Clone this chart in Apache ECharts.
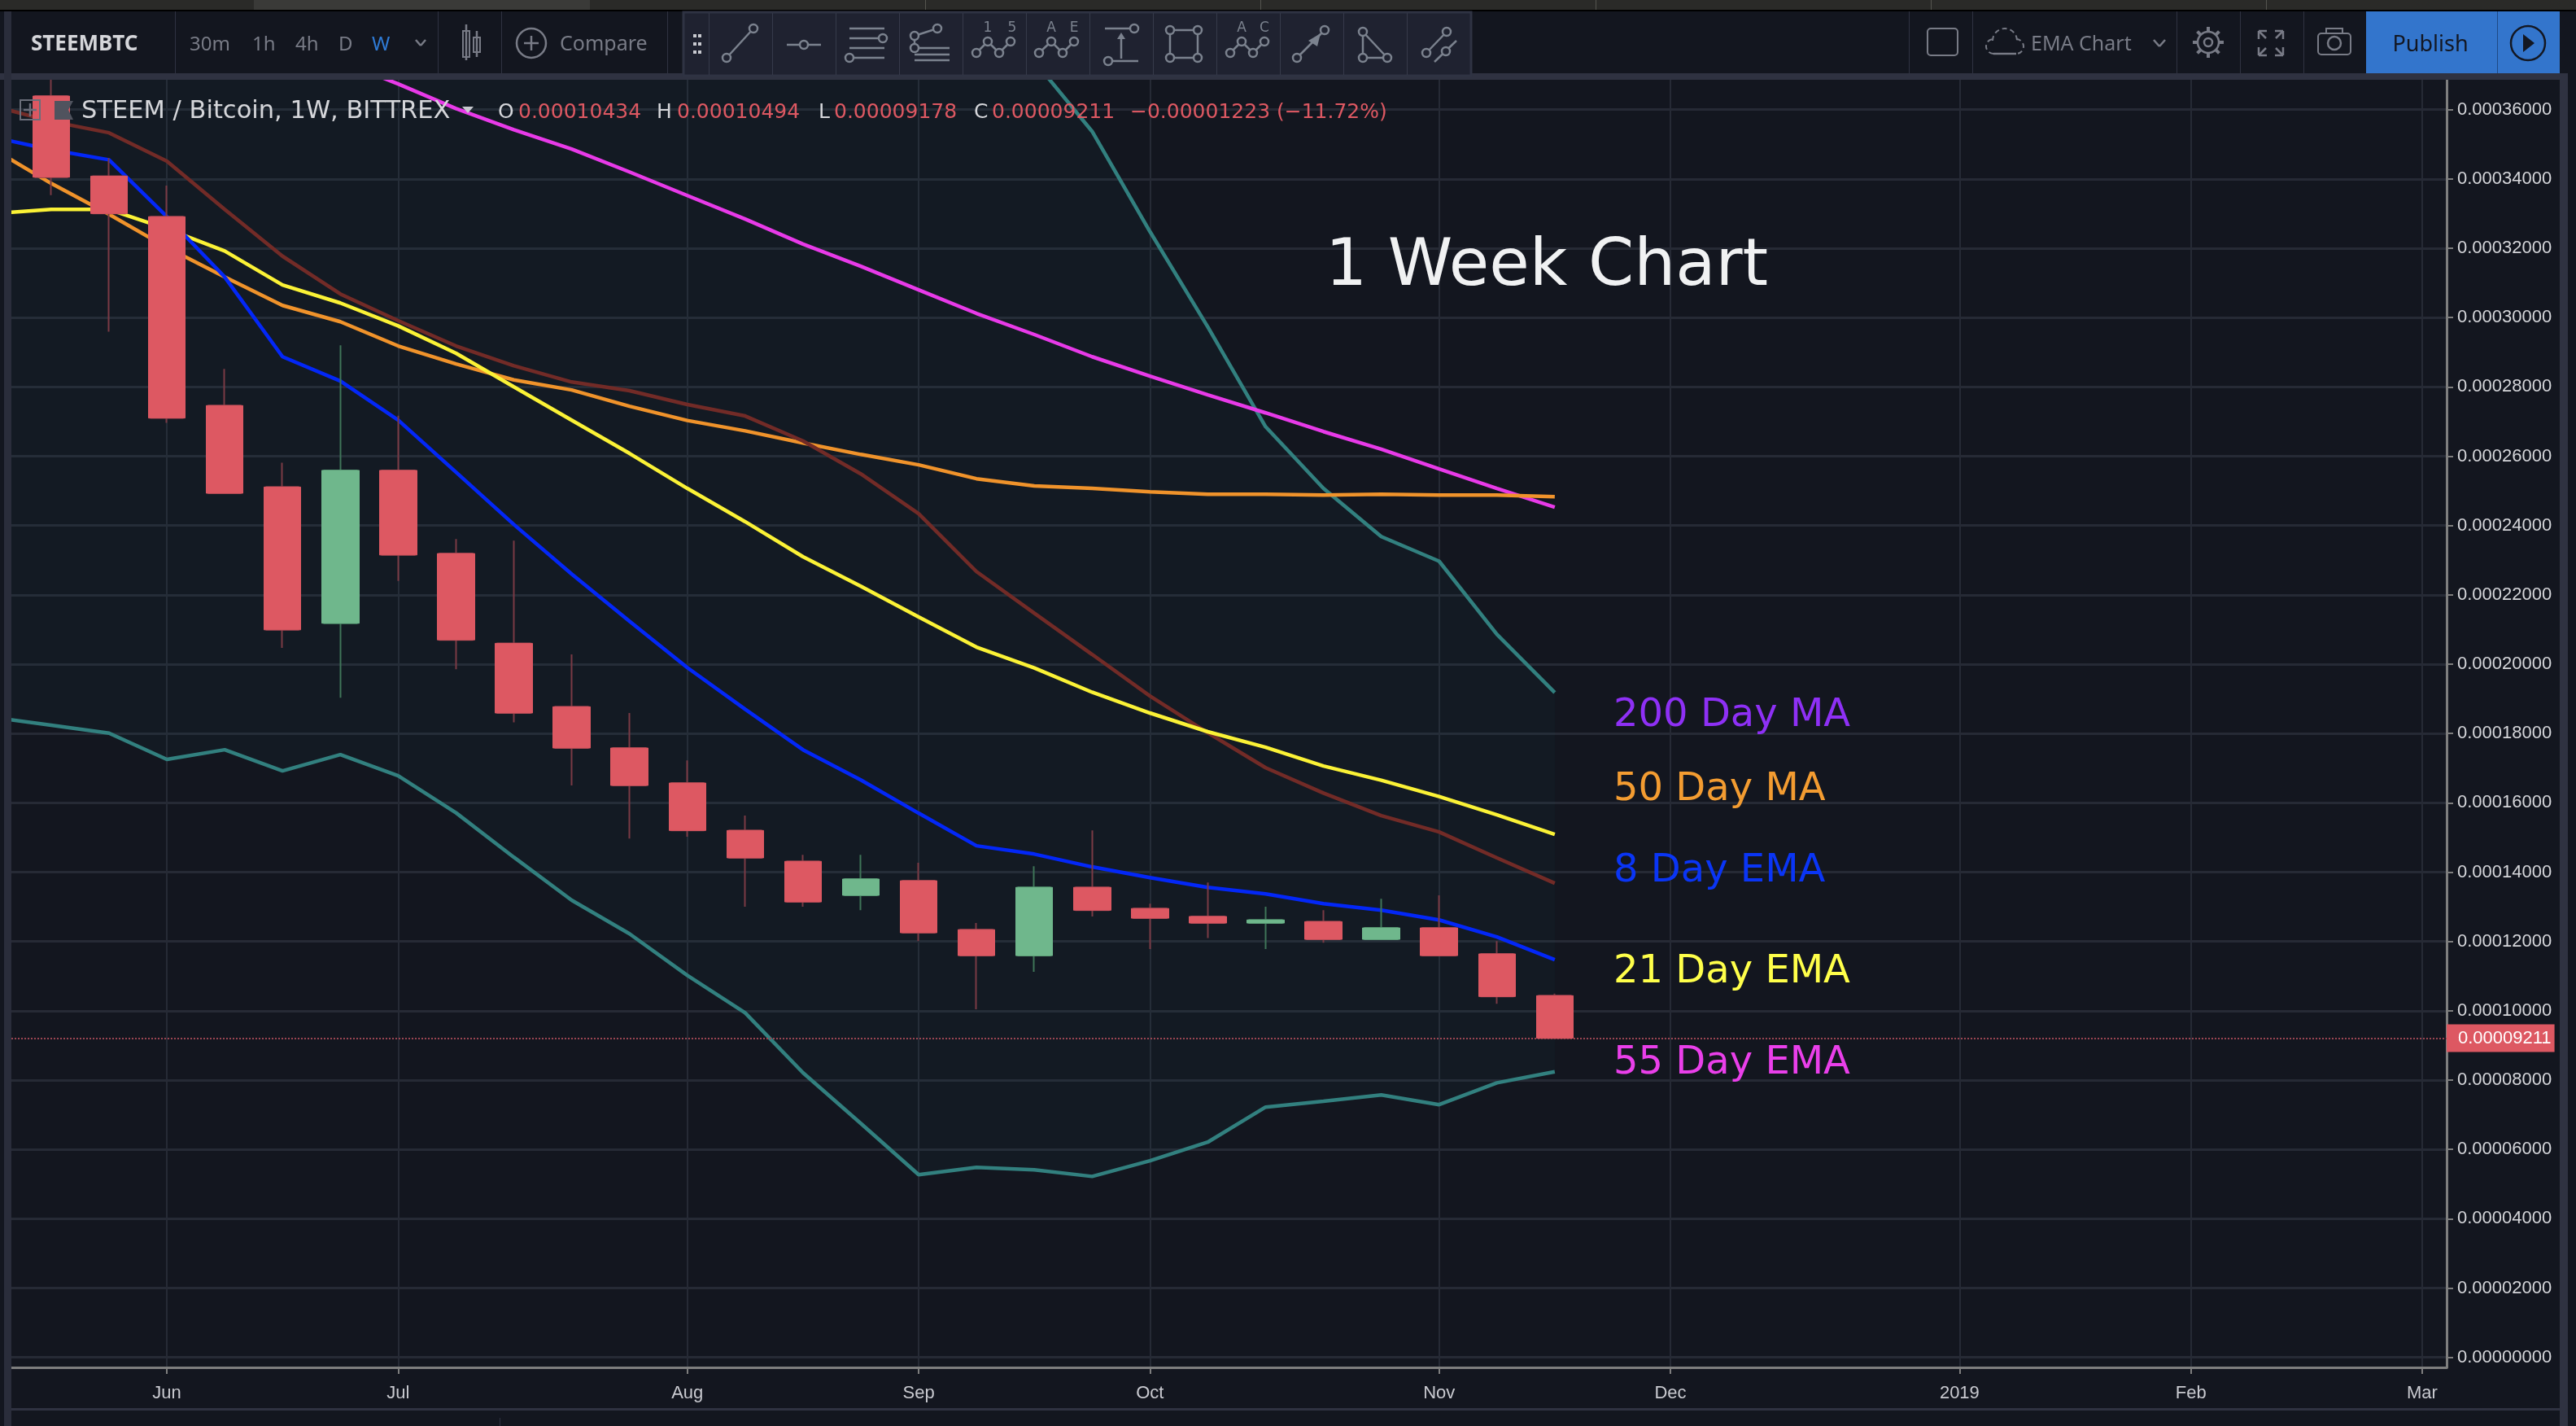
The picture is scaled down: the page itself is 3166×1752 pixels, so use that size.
<!DOCTYPE html>
<html>
<head>
<meta charset="utf-8">
<style>
  html, body { margin: 0; padding: 0; background: #13161f; }
  #chart-container { width: 3166px; height: 1752px; }
</style>
<script src="https://cdn.jsdelivr.net/npm/echarts@6/dist/echarts.min.js"></script>
</head>
<body>
<div id="chart-container"></div>
<script>
// all prices below are in units of 0.00001 BTC
var weeks = ['2018-05-14', '2018-05-21', '2018-05-28', '2018-06-04', '2018-06-11', '2018-06-18', '2018-06-25',
  '2018-07-02', '2018-07-09', '2018-07-16', '2018-07-23', '2018-07-30', '2018-08-06', '2018-08-13', '2018-08-20',
  '2018-08-27', '2018-09-03', '2018-09-10', '2018-09-17', '2018-09-24', '2018-10-01', '2018-10-08', '2018-10-15',
  '2018-10-22', '2018-10-29', '2018-11-05', '2018-11-12', '2018-11-19'];

// candles start one week after the indicator lines
var opens = [36.39, 34.08, 32.91, 27.46, 25.11, 21.18, 25.59, 23.19, 20.60, 18.77, 17.58, 16.57, 15.20, 14.31,
  13.33, 13.75, 12.34, 11.59, 13.56, 12.95, 12.72, 12.53, 12.57, 12.06, 12.39, 11.64, 10.434];
var closes = [34.05, 33.00, 27.10, 24.93, 20.99, 25.59, 23.15, 20.70, 18.59, 17.58, 16.50, 15.20, 14.41, 13.14,
  13.80, 12.25, 11.59, 13.56, 12.90, 12.67, 12.53, 12.62, 12.06, 12.39, 11.59, 10.41, 9.211];
var lows = [33.53, 29.59, 26.96, 24.93, 20.47, 19.03, 22.40, 19.85, 18.32, 16.50, 14.97, 15.02, 13.00, 13.00,
  12.90, 12.01, 10.04, 11.12, 12.72, 11.78, 12.10, 11.78, 11.96, 12.06, 11.59, 10.20, 9.178];
var highs = [37.60, 34.60, 33.81, 28.52, 25.81, 29.20, 27.17, 23.61, 23.56, 20.28, 18.59, 17.22, 15.63, 14.50,
  14.50, 14.27, 12.53, 14.17, 15.20, 13.09, 13.70, 13.00, 12.90, 13.23, 13.33, 12.01, 10.494];

var ema8 = [35.20, 34.84, 34.55, 32.91, 31.17, 28.87, 28.17, 27.04, 25.54, 24.03, 22.60, 21.24, 19.90, 18.70, 17.53,
  16.66, 15.70, 14.76, 14.52, 14.15, 13.84, 13.56, 13.37, 13.09, 12.90, 12.62, 12.13, 11.47];
var ema21 = [33.00, 33.12, 33.12, 32.56, 31.92, 30.94, 30.42, 29.76, 28.97, 28.00, 27.04, 26.08, 25.07, 24.11, 23.10,
  22.25, 21.36, 20.49, 19.89, 19.19, 18.59, 18.05, 17.60, 17.06, 16.65, 16.18, 15.65, 15.09];
var ema55 = [null, null, null, null, null, null, 37.40, 36.74, 36.03, 35.42, 34.86, 34.20, 33.52, 32.84, 32.12,
  31.48, 30.80, 30.12, 29.51, 28.87, 28.31, 27.77, 27.25, 26.71, 26.20, 25.63, 25.07, 24.53];
var ma50 = [34.86, 33.87, 32.98, 32.02, 31.17, 30.35, 29.88, 29.18, 28.66, 28.20, 27.91, 27.44, 27.03, 26.73, 26.38,
  26.05, 25.75, 25.35, 25.14, 25.07, 24.97, 24.90, 24.90, 24.88, 24.90, 24.88, 24.88, 24.83];
var redLine = [36.10, 35.66, 35.33, 34.51, 33.12, 31.77, 30.68, 29.91, 29.18, 28.61, 28.14, 27.89, 27.49, 27.16, 26.44,
  25.49, 24.34, 22.67, 21.47, 20.28, 19.08, 18.02, 17.01, 16.28, 15.63, 15.16, 14.41, 13.68];
// upper band runs off the top of the chart until late September, those values are guesses
var bandUpper = [52, 52, 52, 51.5, 51, 50.5, 50, 49.5, 49, 48.5, 48, 47.5, 47, 46, 45, 44, 42, 40,
  37.40, 35.37, 32.48, 29.73, 26.85, 25.07, 23.68, 22.97, 20.86, 19.18];
var bandLower = [18.46, 18.24, 18.01, 17.25, 17.53, 16.92, 17.39, 16.78, 15.71, 14.43, 13.19, 12.22, 11.02, 9.94, 8.21,
  6.75, 5.27, 5.48, 5.41, 5.22, 5.67, 6.21, 7.22, 7.39, 7.57, 7.29, 7.92, 8.24];

var lastPrice = 9.211;
var priceTicks = [0, 2, 4, 6, 8, 10, 12, 14, 16, 18, 20, 22, 24, 26, 28, 30, 32, 34, 36];
var monthTicks = ['2018-06-04', '2018-07-02', '2018-08-06', '2018-09-03', '2018-10-01', '2018-11-05', '2018-12-03',
  '2019-01-07', '2019-02-04', '2019-03-04'];
var monthNames = ['Jun', 'Jul', 'Aug', 'Sep', 'Oct', 'Nov', 'Dec', '2019', 'Feb', 'Mar'];

var legendNotes = [
  ['200 Day MA', '#8e30f5', 880],
  ['50 Day MA', '#f39c31', 971],
  ['8 Day EMA', '#0a35f5', 1071],
  ['21 Day EMA', '#ffff4a', 1195],
  ['55 Day EMA', '#ea3fea', 1307]
];

var BG = '#13161f';
var GRID = '#262a35';
var MUTED = '#787b86';
var TOOL = '#7b828e';
var UI_FONT = '"DejaVu Sans"';

function fmtPrice(v) {
  return (v / 100000).toFixed(8);
}
function toMs(day) {
  return Date.parse(day + 'T00:00:00Z');
}
var monthTickMs = monthTicks.map(toMs);
function monthLabel(v) {
  return monthNames[monthTickMs.indexOf(v)] || '';
}
function rowsOf(values) {
  return weeks.map(function (w, i) { return [toMs(w), values[i]]; });
}
// the value comes first here so that stacking acts on the price and not on the date
function stackRowsOf(values) {
  return weeks.map(function (w, i) { return [values[i], toMs(w)]; });
}

var candleWeeks = weeks.slice(1);
var wickData = candleWeeks.map(function (w, i) {
  return [toMs(w), opens[i], closes[i], lows[i], highs[i]];
});
var bodyData = candleWeeks.map(function (w, i) {
  return [toMs(w), opens[i], closes[i], Math.min(opens[i], closes[i]), Math.max(opens[i], closes[i])];
});
var bandGap = bandUpper.map(function (v, i) { return v - bandLower[i]; });

function lineSeries(name, values, color) {
  return {
    name: name,
    type: 'line',
    data: rowsOf(values),
    symbol: 'none',
    z: 3,
    lineStyle: { color: color, width: 4.5 },
    silent: true
  };
}

// ---- chrome around the chart ----
function rect(x, y, w, h, fill, extra) {
  var el = { type: 'rect', shape: { x: x, y: y, width: w, height: h }, style: { fill: fill }, silent: true, z: 50 };
  if (extra) {
    if (extra.r) el.shape.r = extra.r;
    if (extra.stroke) { el.style.stroke = extra.stroke; el.style.lineWidth = extra.lineWidth || 2; }
  }
  return el;
}
function text(str, x, y, size, fill, extra) {
  extra = extra || {};
  return {
    type: 'text',
    z: 60,
    silent: true,
    style: {
      text: str, x: x, y: y, fill: fill,
      font: (extra.weight ? extra.weight + ' ' : '') + size + 'px ' + (extra.family || UI_FONT),
      align: extra.align || 'left',
      verticalAlign: 'middle'
    }
  };
}
function seg(x1, y1, x2, y2, color, width) {
  return {
    type: 'line', z: 60, silent: true,
    shape: { x1: x1, y1: y1, x2: x2, y2: y2 },
    style: { stroke: color || TOOL, lineWidth: width || 2.5 }
  };
}
function dot(cx, cy, r, color, fill) {
  return {
    type: 'circle', z: 61, silent: true,
    shape: { cx: cx, cy: cy, r: r },
    style: { stroke: color || TOOL, lineWidth: 2.5, fill: fill || '#1f2230' }
  };
}
function ring(cx, cy, r, color) {
  return {
    type: 'circle', z: 60, silent: true,
    shape: { cx: cx, cy: cy, r: r },
    style: { stroke: color || MUTED, fill: null, lineWidth: 2.5 }
  };
}
function poly(points, fill) {
  return { type: 'polygon', z: 61, silent: true, shape: { points: points }, style: { fill: fill || TOOL } };
}
function dashedArc(cx, cy, r, a0, a1) {
  return {
    type: 'arc', z: 60, silent: true,
    shape: { cx: cx, cy: cy, r: r, startAngle: a0, endAngle: a1 },
    style: { stroke: MUTED, fill: null, lineWidth: 2, lineDash: [6, 4] }
  };
}

// drawing tool icons, offsets from the centre of their cell
var toolIcons = [
  { l: [[-17, 18, 16, -18]], c: [[-17, 18], [16, -18]] },
  { l: [[-21, 2, 21, 2]], c: [[0, 2]] },
  { l: [[-22, -18, 21, -18], [-22, -6, 19, -6], [-22, 6, 21, 6], [-22, 18, 21, 18]], c: [[19, -6], [-22, 18]] },
  { l: [[-20, -9, 8, -18], [-20, -9, -20, 6], [-20, 6, 23, 6], [-20, 14, 23, 14], [-20, 21, 23, 21]], c: [[-20, -9], [8, -18], [-20, 6]] },
  { l: [[-22, 12, -8, -2], [-8, -2, 6, 12], [6, 12, 20, -2]], c: [[-22, 12], [-8, -2], [6, 12], [20, -2]], t: [[-8, -18, '1'], [22, -18, '5']] },
  { l: [[-23, 12, -8, -2], [-8, -2, 6, 12], [6, 12, 20, -2]], c: [[-23, 12], [-8, -2], [6, 12], [20, -2]], t: [[-8, -18, 'A'], [20, -18, 'E']] },
  { l: [[-20, -18, 16, -18], [-16, 22, 21, 22], [0, -8, 0, 19]], c: [[16, -18], [-16, 22]], p: [[[0, -13], [-5, -5], [5, -5]]] },
  { l: [[-18, -16, 16, -16], [-18, 18, 16, 18], [-18, -16, -18, 18], [16, -16, 16, 18]], c: [[-18, -16], [16, -16], [-18, 18], [16, 18]] },
  { l: [[-22, 12, -8, -2], [-8, -2, 6, 12], [6, 12, 20, -2]], c: [[-22, 12], [-8, -2], [6, 12], [20, -2]], t: [[-8, -18, 'A'], [20, -18, 'C']] },
  { l: [[-18, 18, 16, -16]], c: [[-18, 18], [16, -16]], p: [[[11, -12], [-4, -3], [7, 4]]] },
  { l: [[-15, -14, -15, 18], [-15, 18, 15, 18], [-15, -14, 15, 18]], c: [[-15, -14], [-15, 18], [15, 18]] },
  { l: [[-15, 12, 10, -14], [-5, 23, 22, -3]], c: [[-15, 12], [10, -14], [9, 10]] }
];

function buildChrome() {
  var els = [];
  // tab strip
  els.push(rect(0, 0, 3166, 12, '#2a2a28'));
  els.push(rect(312, 0, 413, 12, '#3a3a38'));
  els.push(rect(0, 12, 3166, 2, '#000000'));
  [1137, 1549, 1961, 2373, 2785].forEach(function (x) { els.push(rect(x, 0, 1, 12, '#55554f')); });
  // top toolbar
  els.push(rect(0, 14, 3166, 76, BG));
  els.push(rect(0, 90, 3156, 8, '#2f3241'));
  els.push(rect(5, 14, 9, 1738, '#2a2d3b'));
  els.push(rect(3146, 98, 10, 1654, '#2f3241'));
  els.push(rect(14, 1730, 3132, 3, '#2f3241'));
  els.push(rect(614, 1742, 1, 10, '#2f3241'));
  [215, 538, 616, 820, 2346, 2424, 2675, 2753, 2831].forEach(function (x) { els.push(rect(x, 14, 1, 76, '#2f3241')); });

  els.push(text('STEEMBTC', 38, 55, 26, '#d5d6da', { family: '"Noto Sans"', weight: 'bold' }));
  [['30m', 233], ['1h', 310], ['4h', 363], ['D', 416]].forEach(function (t) { els.push(text(t[0], t[1], 55, 24, MUTED, { family: '"Noto Sans"' })); });
  els.push(text('W', 457, 55, 24, '#2f7bd6', { family: '"Noto Sans"' }));
  els.push(seg(511, 49, 517, 56, MUTED), seg(517, 56, 523, 49, MUTED));
  // candle icon
  els.push(rect(569, 38, 8, 32, null, { stroke: MUTED }), rect(582, 46, 8, 18, null, { stroke: MUTED }));
  els.push(seg(573, 30, 573, 74, MUTED), seg(586, 38, 586, 70, MUTED));
  // compare
  els.push(ring(653, 53, 18));
  els.push(seg(644, 53, 662, 53, MUTED), seg(653, 44, 653, 62, MUTED));
  els.push(text('Compare', 688, 55, 25, MUTED, { family: '"Noto Sans"' }));

  // floating drawing toolbar
  els.push(rect(840, 15, 968, 78, '#1f2230', { stroke: '#2f3343', lineWidth: 3 }));
  [44, 54, 64].forEach(function (y) {
    els.push(rect(852, y - 2, 4, 4, '#c8cad0'), rect(858, y - 2, 4, 4, '#c8cad0'));
  });
  toolIcons.forEach(function (icon, i) {
    var left = 871 + i * 78;
    var cx = left + 39;
    var cy = 53;
    els.push(rect(left, 16, 1, 76, '#363a4a'));
    (icon.l || []).forEach(function (s) { els.push(seg(cx + s[0], cy + s[1], cx + s[2], cy + s[3])); });
    (icon.c || []).forEach(function (s) { els.push(dot(cx + s[0], cy + s[1], 5)); });
    (icon.t || []).forEach(function (s) { els.push(text(s[2], cx + s[0], cy + s[1], 17, TOOL, { align: 'center' })); });
    (icon.p || []).forEach(function (s) {
      els.push(poly(s.map(function (p) { return [cx + p[0], cy + p[1]]; })));
    });
  });

  // right side of the toolbar
  els.push(rect(2369, 35, 37, 33, null, { stroke: MUTED, r: 4 }));
  els.push(dashedArc(2464, 50, 15, Math.PI, 2 * Math.PI));
  els.push(dashedArc(2450, 57, 9, Math.PI / 2, 1.5 * Math.PI));
  els.push(dashedArc(2478, 57, 9, 1.5 * Math.PI, 2.5 * Math.PI));
  els.push(seg(2450, 66, 2478, 66, MUTED));
  els.push(text('EMA Chart', 2496, 55, 25, MUTED, { family: '"Noto Sans"' }));
  els.push(seg(2647, 49, 2654, 57, MUTED), seg(2654, 57, 2661, 49, MUTED));
  // gear
  els.push(ring(2714, 52, 13), ring(2714, 52, 5));
  for (var a = 0; a < 8; a++) {
    var ang = a * Math.PI / 4;
    els.push(seg(2714 + Math.cos(ang) * 13, 52 + Math.sin(ang) * 13, 2714 + Math.cos(ang) * 19, 52 + Math.sin(ang) * 19, MUTED, 4));
  }
  // fullscreen arrows
  [[-1, -1], [1, -1], [-1, 1], [1, 1]].forEach(function (d) {
    var cx = 2791, cy = 53;
    els.push(seg(cx + d[0] * 6, cy + d[1] * 6, cx + d[0] * 15, cy + d[1] * 15, MUTED));
    els.push(seg(cx + d[0] * 15, cy + d[1] * 15, cx + d[0] * 5, cy + d[1] * 15, MUTED));
    els.push(seg(cx + d[0] * 15, cy + d[1] * 15, cx + d[0] * 15, cy + d[1] * 5, MUTED));
  });
  // camera
  els.push(rect(2849, 41, 40, 26, null, { stroke: MUTED, r: 4 }));
  els.push(rect(2859, 35, 20, 6, null, { stroke: MUTED }));
  els.push(ring(2869, 53, 8));
  // publish
  els.push(rect(2908, 14, 238, 76, '#3375cc'));
  els.push(rect(3069, 14, 1, 76, '#1e4a85'));
  els.push(text('Publish', 2987, 55, 27, '#131722', { family: '"Noto Sans"', align: 'center' }));
  els.push(ring(3107, 53, 21, '#131722'));
  els.push(poly([[3101, 42], [3101, 64], [3115, 53]], '#131722'));

  // series title row
  els.push(rect(25, 123, 24, 24, null, { stroke: '#6a6e7a' }));
  els.push(seg(37, 127, 37, 143, '#6a6e7a'), seg(29, 135, 45, 135, '#6a6e7a'));
  els.push(poly([[67, 124], [90, 124], [84, 135], [90, 147], [67, 147]], '#50535e'));
  els.push(text('STEEM / Bitcoin, 1W, BITTREX', 100, 137, 30.5, '#d5d6da'));
  els.push(poly([[568, 131], [582, 131], [575, 139]], '#c8cad0'));
  var red = '#dd5862';
  [['O', 612, '0.00010434', 637], ['H', 807, '0.00010494', 832], ['L', 1006, '0.00009178', 1025], ['C', 1197, '0.00009211', 1219]].forEach(function (t) {
    els.push(text(t[0], t[1], 138, 25, '#d5d6da'));
    els.push(text(t[2], t[3], 138, 25, red));
  });
  els.push(text('\u22120.00001223 (\u221211.72%)', 1389, 138, 25, red));

  // notes written on the chart
  els.push(text('1 Week Chart', 1629, 329, 80.5, '#f0f1f2'));
  legendNotes.forEach(function (n) {
    els.push(text(n[0], 1983, n[2], 48, n[1]));
  });
  return els;
}

var dom = document.getElementById('chart-container');
var myChart = echarts.init(dom, null, { renderer: 'canvas' });
var option = {
  animation: false,
  backgroundColor: BG,
  grid: { left: 14, right: 159, top: 98, bottom: 72 },
  xAxis: {
    type: 'value',
    min: Date.UTC(2018, 4, 16, 4, 19),
    max: Date.UTC(2019, 2, 6, 23),
    axisLine: { onZero: false, lineStyle: { color: '#7e7e7e', width: 3 } },
    axisTick: { show: true, length: 8, customValues: monthTickMs, lineStyle: { color: '#7e7e7e', width: 2 } },
    axisLabel: {
      customValues: monthTickMs,
      formatter: function (v) { return monthLabel(v); },
      color: '#c9cad0',
      fontSize: 22,
      fontFamily: 'Liberation Sans',
      margin: 21
    },
    splitLine: { show: true, lineStyle: { color: GRID, width: 2 } }
  },
  yAxis: {
    type: 'value',
    position: 'right',
    min: -0.29,
    max: 36.86,
    axisLine: { show: true, onZero: false, lineStyle: { color: '#7e7e7e', width: 3 } },
    axisTick: { show: true, length: 8, customValues: priceTicks, lineStyle: { color: '#7e7e7e', width: 2 } },
    axisLabel: {
      customValues: priceTicks,
      formatter: function (v) { return fmtPrice(v); },
      color: '#d5d6da',
      fontSize: 22,
      fontFamily: 'Liberation Sans',
      margin: 13,
      padding: [5, 0, 0, 0]
    },
    splitLine: { show: true, lineStyle: { color: GRID, width: 3 } }
  },
  series: [
    {
      name: 'band base',
      type: 'line',
      data: stackRowsOf(bandLower),
      encode: { x: 1, y: 0 },
      stack: 'band',
      symbol: 'none',
      z: 1,
      lineStyle: { width: 0 },
      silent: true
    },
    {
      name: 'band fill',
      type: 'line',
      data: stackRowsOf(bandGap),
      encode: { x: 1, y: 0 },
      stack: 'band',
      symbol: 'none',
      z: 1,
      lineStyle: { width: 0 },
      areaStyle: { color: 'rgba(38,150,154,0.042)' },
      silent: true
    },
    lineSeries('Band upper', bandUpper, '#32807f'),
    lineSeries('Band lower', bandLower, '#32807f'),
    lineSeries('55 Day EMA', ema55, '#e83ae8'),
    lineSeries('50 Day MA', ma50, '#f0932b'),
    lineSeries('Dark red line', redLine, '#722b27'),
    lineSeries('21 Day EMA', ema21, '#fbf236'),
    lineSeries('8 Day EMA', ema8, '#0327f7'),
    {
      name: 'wicks',
      type: 'candlestick',
      data: wickData,
      barWidth: 40,
      z: 5,
      silent: true,
      itemStyle: { color: '#3f7558', color0: '#7a3a45', borderColor: '#3f7558', borderColor0: '#7a3a45', borderWidth: 2 }
    },
    {
      name: 'STEEMBTC',
      type: 'candlestick',
      data: bodyData,
      barWidth: 46,
      z: 6,
      silent: true,
      itemStyle: { color: '#6fb78c', color0: '#dd5862', borderColor: '#6fb78c', borderColor0: '#dd5862', borderWidth: 1 },
      markLine: {
        silent: true,
        symbol: 'none',
        animation: false,
        data: [{ yAxis: lastPrice }],
        lineStyle: { color: '#9a4552', width: 2, type: 'dotted' },
        label: {
          show: true,
          position: 'end',
          distance: 0,
          formatter: function () { return fmtPrice(lastPrice); },
          color: '#ffffff',
          fontSize: 22,
          fontFamily: 'Liberation Sans',
          backgroundColor: '#dd5862',
          padding: [6, 4, 6, 14]
        }
      }
    }
  ],
  graphic: { elements: buildChrome() }
};

myChart.setOption(option);
window.addEventListener('resize', myChart.resize);
</script>
</body>
</html>
